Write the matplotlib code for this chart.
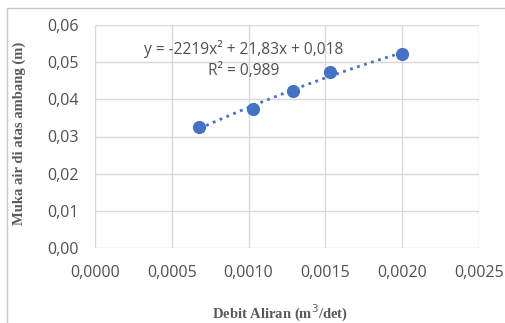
import numpy as np
import matplotlib.pyplot as plt
from matplotlib.patches import Rectangle

debit = [0.00068, 0.00103, 0.00129, 0.00153, 0.00200]
muka_air = [0.0326, 0.0374, 0.0422, 0.0474, 0.0522]
x_ticks = [0.0, 0.0005, 0.0010, 0.0015, 0.0020, 0.0025]
y_ticks = [0.00, 0.01, 0.02, 0.03, 0.04, 0.05, 0.06]
eq_text = 'y = -2219x² + 21,83x + 0,018'
r2_text = 'R² = 0,989'

fig = plt.figure(figsize=(5.05, 3.23), dpi=100)
ax = fig.add_axes([95 / 505, 1 - 248 / 323, 384 / 505, 223 / 323])

# trendline (poly order 2)
coef = np.polyfit(debit, muka_air, 2)
xs = np.linspace(min(debit), max(debit), 100)
ax.plot(xs, np.polyval(coef, xs), ':', color='#4472c4', lw=2, zorder=2)
ax.scatter(debit, muka_air, s=72, color='#4472c4', zorder=3)

ax.set_xlim(0, 0.0025)
ax.set_ylim(0, 0.06)
ax.set_xticks(x_ticks)
ax.set_yticks(y_ticks)
ax.set_xticklabels([f'{v:.4f}'.replace('.', ',') for v in x_ticks])
ax.set_yticklabels([f'{v:.2f}'.replace('.', ',') for v in y_ticks])
ax.grid(True, color='#d9d9d9', lw=1)
ax.set_axisbelow(True)
for s in ax.spines.values():
    s.set_visible(False)
ax.tick_params(length=0, labelsize=11.5, labelcolor='#505050')
ax.tick_params(axis='x', pad=12)
ax.tick_params(axis='y', pad=12)
for lab in ax.get_xticklabels() + ax.get_yticklabels():
    lab.set_family('Open Sans')

ax.text(0.00097, 0.0535, eq_text, ha='center', va='center', fontsize=11.2,
        color='#505050', family='Open Sans')
ax.text(0.00097, 0.0476, r2_text, ha='center', va='center', fontsize=11.2,
        color='#505050', family='Open Sans')

fig.text(280 / 505, 1 - 313 / 323, 'Debit Aliran (m$^3$/det)', ha='center', va='center',
         fontsize=10.5, fontweight='bold', color='#5a5a5a', family='Liberation Serif')
fig.text(19 / 505, 1 - 133 / 323, 'Muka air di atas ambang (m)', ha='center', va='center',
         rotation=90, fontsize=10.5, fontweight='bold', color='#5a5a5a', family='Liberation Serif')

fig.patches.append(Rectangle((7 / 505, -0.01), 1.0, 1 - 8 / 323 + 0.01, transform=fig.transFigure,
                             fill=False, edgecolor='#c8c8c8', lw=1))

fig.savefig('out.png', dpi=100)
